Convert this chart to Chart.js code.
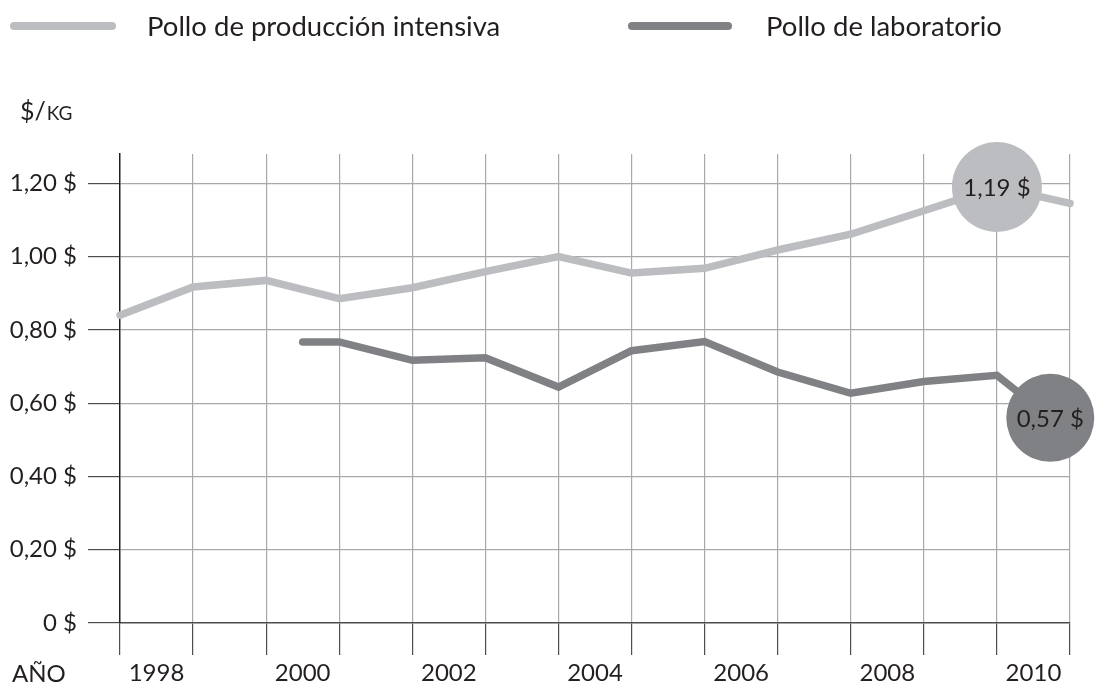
<!DOCTYPE html>
<html><head><meta charset="utf-8">
<script src="https://cdn.jsdelivr.net/npm/chart.js@4.4.1/dist/chart.umd.min.js"></script>
<style>html,body{margin:0;padding:0;background:#fff}#wrap{width:1100px;height:694px}</style>
</head><body><div id="wrap"><canvas id="c" width="1100" height="694"></canvas></div>
<script>
// ---- data ----
const seriesNames = ['Pollo de producción intensiva', 'Pollo de laboratorio'];
const yearLabels = ['1998', '2000', '2002', '2004', '2006', '2008', '2010'];
const yearLabelPositions = [0.5, 2.5, 4.5, 6.5, 8.5, 10.5, 12.5];
const gridPositions = [0, 1, 2, 3, 4, 5, 6, 7, 8, 9, 10, 11, 12, 13];
const intensiveX = [0, 1, 2, 3, 4, 5, 6, 7, 8, 9, 10, 11, 12, 13];
const intensiveY = [0.84, 0.917, 0.935, 0.885, 0.915, 0.959, 1.0, 0.955, 0.968, 1.018, 1.061, 1.125, 1.19, 1.145];
const labX = [2.5, 3, 4, 5, 6, 7, 8, 9, 10, 11, 12, 12.73];
const labY = [0.767, 0.767, 0.717, 0.724, 0.644, 0.743, 0.768, 0.685, 0.627, 0.659, 0.676, 0.56];
const calloutLabels = ['1,19 $', '0,57 $'];
const calloutIndex = [12, 11];
const yTicks = [0, 0.2, 0.4, 0.6, 0.8, 1.0, 1.2];
const yUnit = ['$/', 'KG'];
const xUnit = 'AÑO';

// ---- style ----
const FONT = 'Lato';
const TEXT = '#231f20';
const LIGHT = '#bcbdc0';
const DARK = '#808184';
const GRID = '#a7a9ac';
const AXIS = '#4d4d4f';

const isInt = v => Math.abs(v - Math.round(v)) < 1e-6;
const near = (a, b) => Math.abs(a - b) < 1e-6;

const overlay = {
  id: 'overlay',
  afterDatasetsDraw(chart) {
    const ctx = chart.ctx;
    ctx.save();
    ctx.fillStyle = TEXT;
    ctx.textAlign = 'center';
    ctx.textBaseline = 'middle';
    ctx.font = '400 24px ' + FONT;
    chart.data.datasets.forEach((d, i) => {
      const el = chart.getDatasetMeta(i).data[calloutIndex[i]];
      if (el) ctx.fillText(calloutLabels[i], el.x, el.y + 1);
    });
    ctx.restore();
  },
  afterDraw(chart) {
    const ctx = chart.ctx;
    ctx.save();
    // legend
    const items = [
      { x1: 10, x2: 116, tx: 147, color: LIGHT },
      { x1: 628, x2: 732, tx: 766, color: DARK }
    ];
    items.forEach((it, i) => {
      ctx.strokeStyle = it.color;
      ctx.lineWidth = 8;
      ctx.lineCap = 'round';
      ctx.beginPath();
      ctx.moveTo(it.x1 + 4, 26);
      ctx.lineTo(it.x2 - 4, 26);
      ctx.stroke();
      ctx.fillStyle = TEXT;
      ctx.font = '400 27.5px ' + FONT;
      ctx.textAlign = 'left';
      ctx.textBaseline = 'middle';
      ctx.fillText(seriesNames[i], it.tx, 27);
    });
    // y unit
    ctx.textBaseline = 'alphabetic';
    ctx.font = '400 25px ' + FONT;
    ctx.fillText(yUnit[0], 20, 120);
    const w = ctx.measureText(yUnit[0]).width;
    ctx.font = '400 19px ' + FONT;
    ctx.fillText(yUnit[1], 20 + w + 1, 120);
    // x unit
    ctx.font = '400 24px ' + FONT;
    ctx.fillText(xUnit, 12, 682);
    ctx.restore();
  }
};

const fmtY = v => (near(v, 0) ? '0' : v.toFixed(2).replace('.', ',')) + ' $';

new Chart(document.getElementById('c'), {
  type: 'line',
  data: {
    datasets: [
      {
        label: seriesNames[0],
        data: intensiveX.map((x, i) => ({ x, y: intensiveY[i] })),
        borderColor: LIGHT,
        backgroundColor: LIGHT,
        borderWidth: 7.5,
        borderCapStyle: 'round',
        borderJoinStyle: 'miter',
        pointRadius: c => c.dataIndex === calloutIndex[0] ? 45 : 0,
        pointHoverRadius: c => c.dataIndex === calloutIndex[0] ? 45 : 0,
        pointBackgroundColor: LIGHT,
        pointBorderWidth: 0,
        tension: 0,
        clip: false
      },
      {
        label: seriesNames[1],
        data: labX.map((x, i) => ({ x, y: labY[i] })),
        borderColor: DARK,
        backgroundColor: DARK,
        borderWidth: 7.5,
        borderCapStyle: 'round',
        borderJoinStyle: 'miter',
        pointRadius: c => c.dataIndex === calloutIndex[1] ? 44 : 0,
        pointHoverRadius: c => c.dataIndex === calloutIndex[1] ? 44 : 0,
        pointBackgroundColor: DARK,
        pointBorderWidth: 0,
        tension: 0,
        clip: false
      }
    ]
  },
  options: {
    responsive: false,
    animation: false,
    devicePixelRatio: 1,
    events: [],
    layout: { autoPadding: false, padding: { top: 154, right: 30, left: 0, bottom: 0 } },
    plugins: { legend: { display: false }, tooltip: { enabled: false }, title: { display: false } },
    scales: {
      x: {
        type: 'linear',
        min: 0,
        max: 13,
        afterBuildTicks: s => {
          s.ticks = gridPositions.concat(yearLabelPositions).sort((a, b) => a - b).map(v => ({ value: v }));
        },
        afterFit: s => { s.height = 71; s.paddingLeft = 0; s.paddingRight = 0; },
        ticks: {
          autoSkip: false,
          maxRotation: 0,
          padding: 4,
          color: TEXT,
          font: { family: FONT, size: 24, weight: '400' },
          callback: v => {
            const i = yearLabelPositions.findIndex(p => near(p, v));
            return i >= 0 ? yearLabels[i] : '';
          }
        },
        grid: {
          color: c => (c.tick && isInt(c.tick.value) && !near(c.tick.value, 0)) ? GRID : 'rgba(0,0,0,0)',
          tickColor: c => (c.tick && isInt(c.tick.value)) ? AXIS : 'rgba(0,0,0,0)',
          tickLength: 32,
          lineWidth: 1.2
        },
        border: { color: AXIS, width: 1.5 }
      },
      y: {
        min: 0,
        max: 1.28,
        afterBuildTicks: s => { s.ticks = yTicks.map(v => ({ value: v })); },
        afterFit: s => { s.width = 120; s.paddingTop = 0; s.paddingBottom = 0; },
        ticks: {
          padding: 11,
          color: TEXT,
          font: { family: FONT, size: 24, weight: '400' },
          callback: v => fmtY(v)
        },
        grid: {
          color: c => (c.tick && !near(c.tick.value, 0)) ? GRID : 'rgba(0,0,0,0)',
          tickColor: AXIS,
          tickLength: 32,
          lineWidth: 1.2
        },
        border: { color: '#231f20', width: 1.5 }
      }
    }
  },
  plugins: [overlay]
});
</script>
</body></html>
